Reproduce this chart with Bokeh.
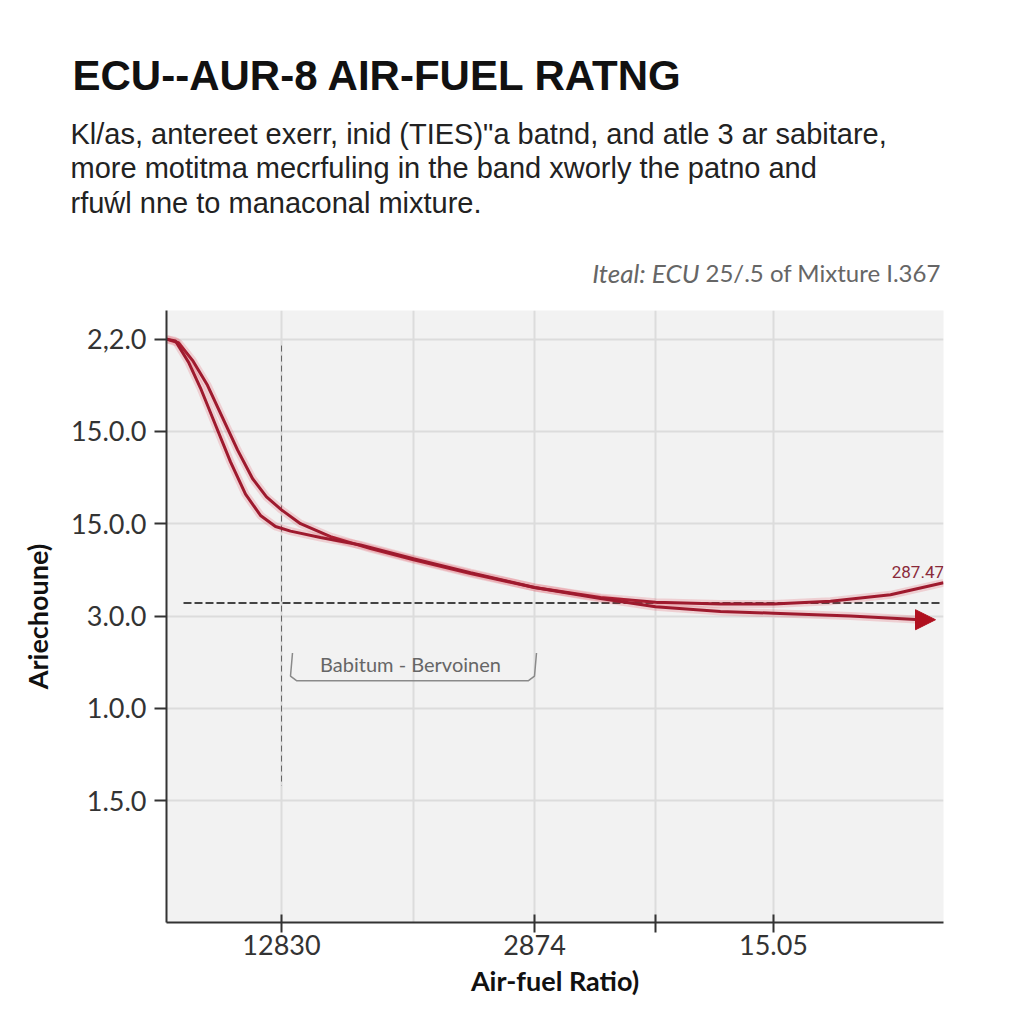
from bokeh.plotting import figure
from bokeh.layouts import column, row
from bokeh.models import Range1d, FixedTicker, Label, Arrow, NormalHead
from bokeh.core.properties import value
from bokeh.embed import file_html
from bokeh.resources import INLINE

# ---------------- data ----------------
title_text = "ECU--AUR-8 AIR-FUEL RATNG"
subtitle_lines = [
    "Kl/as, antereet exerr, inid (TIES)\"a batnd, and atle 3 ar sabitare,",
    "more motitma mecrfuling in the band xworly the patno and",
    "rfuẃl nne to manaconal mixture.",
]
note_italic = "Iteal: ECU"
note_normal = "25/.5 of Mixture I.367"
x_axis_title = "Air-fuel Ratio)"
y_axis_title = "Ariechoune)"

y_ticks = [1, 2, 3, 4, 5, 6]
y_tick_labels = ["1.5.0", "1.0.0", "3.0.0", "15.0.0", "15.0.0", "2,2.0"]
x_ticks = [1.15, 3.68, 4.89, 6.07]
x_tick_labels = ["12830", "2874", "", "15.05"]
x_grid = [1.15, 2.47, 3.68, 4.89, 6.07]

afr_a = [0.00, 0.12, 0.26, 0.41, 0.56, 0.71, 0.86, 1.00, 1.15, 1.34, 1.64, 2.04,
         2.47, 3.04, 3.68, 4.34, 4.89, 5.54, 6.07, 6.64, 7.24, 7.77]
val_a = [6.00, 5.96, 5.77, 5.50, 5.15, 4.80, 4.49, 4.29, 4.15, 4.00, 3.86, 3.73,
         3.61, 3.46, 3.31, 3.20, 3.15, 3.13, 3.13, 3.16, 3.23, 3.36]
afr_b = [0.00, 0.09, 0.22, 0.34, 0.49, 0.64, 0.79, 0.94, 1.09, 1.24, 1.54, 1.94,
         2.47, 3.04, 3.68, 4.34, 4.89, 5.54, 6.07, 6.84, 7.54, 7.69]
val_b = [6.00, 5.98, 5.75, 5.47, 5.07, 4.67, 4.32, 4.09, 3.97, 3.92, 3.85, 3.77,
         3.62, 3.47, 3.31, 3.19, 3.10, 3.05, 3.03, 3.00, 2.96, 2.96]
end_label = "287.47."

ref_y = 3.14            # horizontal dashed reference
ref_y_x = [0.17, 7.74]
ref_x = 1.15            # vertical dashed reference
ref_x_y = [5.93, 1.16]

band_text = "Babitum - Bervoinen"
band_x = [1.26, 1.24, 1.30, 3.62, 3.68, 3.70]
band_y = [2.60, 2.35, 2.30, 2.30, 2.35, 2.60]

# ---------------- layout ----------------
W = 1024
HEAD_H = 310
X0, X1 = 0.0, 7.77
Y0, Y1 = -0.32, 6.31
FL, FT, FW, FH = 166, 310, 777, 612
RED = "#9e1a2e"


def dx(px):
    return X0 + (px - FL) / FW * (X1 - X0)


def dy(py):
    return Y1 - (py - FT) / FH * (Y1 - Y0)


# ---------- header figure (titles) ----------
h = figure(width=W, height=HEAD_H, output_backend="svg", toolbar_location=None,
           x_range=Range1d(0, W), y_range=Range1d(HEAD_H, 0),
           x_axis_type=None, y_axis_type=None, min_border=0,
           min_border_left=0, min_border_right=0, min_border_top=0, min_border_bottom=0)
h.outline_line_color = None
h.grid.visible = False
h.background_fill_color = "white"
h.border_fill_color = "white"

h.text(x=[72], y=[75], text=[title_text], text_font=value("Liberation Sans"),
       text_font_style="bold", text_font_size="42px", text_color="#111111",
       text_baseline="middle")
h.text(x=[70, 70, 70], y=[133, 167.5, 202], text=subtitle_lines,
       text_font=value("Liberation Sans"), text_font_size="29px", text_color="#222222",
       text_baseline="middle")
h.text(x=[699], y=[272], text=[note_italic], text_font=value("Lato"),
       text_font_style="italic", text_font_size="26px", text_color="#666666",
       text_baseline="middle", text_align="right")
h.text(x=[705], y=[272], text=[note_normal], text_font=value("Lato"),
       text_font_size="24px", text_color="#666666", text_baseline="middle")

# ---------- main chart ----------
p = figure(frame_width=FW, frame_height=FH, output_backend="svg", toolbar_location=None,
           x_range=Range1d(X0, X1), y_range=Range1d(Y0, Y1),
           min_border_left=FL, min_border_top=0, min_border_right=W - FL - FW,
           min_border_bottom=1024 - FT - FH)
p.background_fill_color = "#f2f2f2"
p.border_fill_color = "white"
p.outline_line_color = None

p.xgrid.ticker = FixedTicker(ticks=x_grid)
p.ygrid.ticker = FixedTicker(ticks=y_ticks)
for g in (p.xgrid, p.ygrid):
    g.grid_line_color = "#dcdcdc"
    g.grid_line_width = 2

p.yaxis.ticker = FixedTicker(ticks=y_ticks)
p.yaxis.major_label_overrides = {t: l for t, l in zip(y_ticks, y_tick_labels)}
p.xaxis.ticker = FixedTicker(ticks=x_ticks)
p.xaxis.major_label_overrides = {t: l for t, l in zip(x_ticks, x_tick_labels)}
for ax in (p.xaxis, p.yaxis):
    ax.axis_line_color = "#333333"
    ax.axis_line_width = 2
    ax.major_tick_line_color = "#333333"
    ax.major_tick_line_width = 2
    ax.minor_tick_line_color = None
    ax.major_label_text_font = "Lato"
    ax.major_label_text_font_size = "27px"
    ax.major_label_text_color = "#333333"
    ax.axis_label_text_font = "Lato"
    ax.axis_label_text_font_style = "bold"
    ax.axis_label_text_font_size = "27px"
    ax.axis_label_text_color = "#111111"
p.yaxis.major_tick_in = 0
p.yaxis.major_tick_out = 12
p.yaxis.major_label_standoff = 8
p.yaxis.axis_label = y_axis_title
p.yaxis.axis_label_standoff = 14
p.xaxis.major_tick_in = 8
p.xaxis.major_tick_out = 10
p.xaxis.major_label_standoff = 2
p.xaxis.axis_label = x_axis_title
p.xaxis.axis_label_standoff = 6

# reference lines
p.line(ref_y_x, [ref_y, ref_y], line_color="#444444", line_width=2, line_dash="8 3")
p.line([ref_x, ref_x], ref_x_y, line_color="#666666", line_width=1, line_dash="6 4")

# curves with glow
for xs, ys in ((afr_a, val_a), (afr_b[:-1], val_b[:-1])):
    p.line(xs, ys, line_color="#e03040", line_width=8, line_alpha=0.18)
    p.line(xs, ys, line_color=RED, line_width=3)

p.add_layout(Arrow(end=NormalHead(size=20, fill_color="#b0101f", line_color="#b0101f"),
                   x_start=afr_b[-2], y_start=val_b[-2], x_end=afr_b[-1], y_end=val_b[-1],
                   line_color=RED, line_width=3))

# band annotation
p.line(band_x, band_y, line_color="#8a8a8a", line_width=1.5)
p.add_layout(Label(x=dx(410), y=dy(663), text=band_text, text_font="Lato",
                   text_font_size="20px", text_color="#666666", text_align="center",
                   text_baseline="middle"))

p.add_layout(Label(x=dx(948), y=dy(571), text=end_label, text_font="Roboto",
                   text_font_size="17px", text_color="#8a2a3a", text_align="right",
                   text_baseline="middle"))

layout = column(row(h, spacing=0), p, spacing=0)
open("out.html", "w").write(file_html(layout, INLINE))
